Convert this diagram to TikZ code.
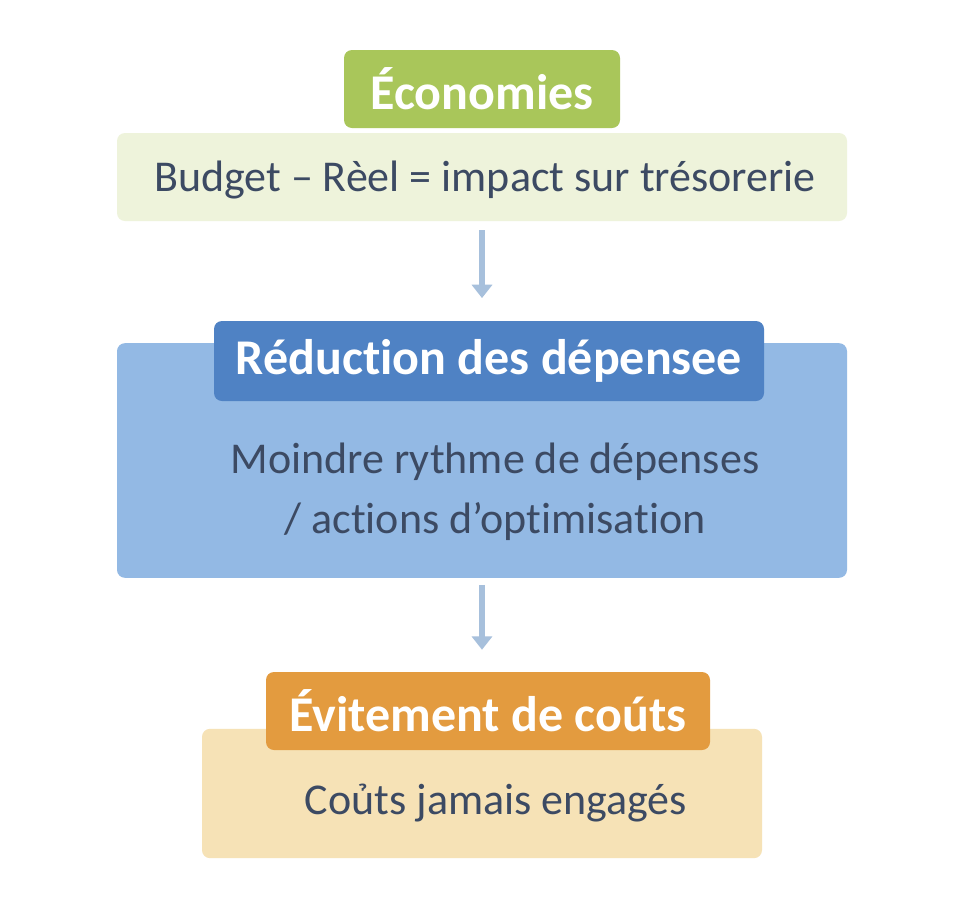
\documentclass[tikz,border=0pt]{standalone}
\usepackage{fontspec}
\setmainfont{Carlito}[Ligatures=NoCommon]
\usetikzlibrary{arrows.meta}

\definecolor{ecoTitle}{HTML}{A9C65A}
\definecolor{ecoBody}{HTML}{EEF3DB}
\definecolor{redTitle}{HTML}{4F82C4}
\definecolor{redBody}{HTML}{93B9E4}
\definecolor{eviTitle}{HTML}{E39B3F}
\definecolor{eviBody}{HTML}{F6E2B6}
\definecolor{inkText}{HTML}{3C4A63}
\definecolor{flowLine}{HTML}{A7C0DC}

\tikzset{
  titlebox/.style={fill=#1, rounded corners=6pt, inner sep=0pt, text=white,
    font=\fontsize{37.5}{44}\selectfont\bfseries},
  bodybox/.style={fill=#1, rounded corners=6pt, inner sep=0pt},
  bodytext/.style={text=inkText, align=center, font=\fontsize{33}{45}\selectfont},
  flow/.style={line width=4pt, draw=flowLine, -{Triangle[width=15pt,length=10pt]}}
}

\begin{document}
\begin{tikzpicture}[x=0.75pt,y=-0.75pt]
  \useasboundingbox[fill=white] (0,0) rectangle (964,918);

  % economies
  \node[bodybox=ecoBody, minimum width=547.5pt, minimum height=66pt] (ecobody) at (482,177) {};
  \node[titlebox=ecoTitle, minimum width=207pt, minimum height=58.5pt] (ecotitle) at (482,89) {Économies};
  \node[bodytext] (ecotext) at (485,180) {Budget – Rèel = impact sur trésorerie};

  % reduction
  \node[bodybox=redBody, minimum width=547.5pt, minimum height=176pt] (redbody) at (482,460.5) {};
  \node[titlebox=redTitle, minimum width=412.5pt, minimum height=60pt] (redtitle) at (489,361) {Réduction des dépensee};
  \node[bodytext] (redtext) at (495,492) {Moindre rythme de dépenses\\/ actions d’optimisation};

  % evitement
  \node[bodybox=eviBody, minimum width=420pt, minimum height=97pt] (evibody) at (482,793.5) {};
  \node[titlebox=eviTitle, minimum width=333pt, minimum height=58.5pt] (evititle) at (488,711) {Évitement de coúts};
  \node[bodytext] (evitext) at (496,803) {Coủts jamais engagés};

  \draw[flow, shorten <=6.75pt, shorten >=17pt] (ecobody.south) -- (ecobody.south |- redtitle.north);
  \draw[flow, shorten <=5pt, shorten >=16.5pt] (redbody.south) -- (redbody.south |- evititle.north);
\end{tikzpicture}
\end{document}
